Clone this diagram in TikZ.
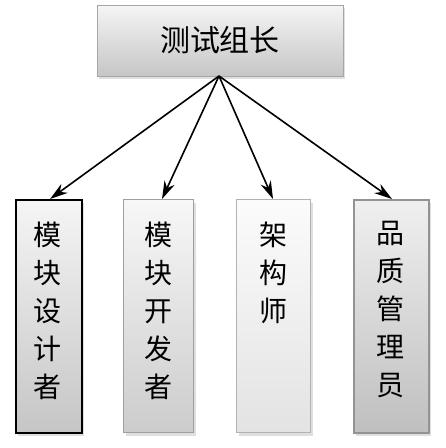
\documentclass[tikz,border=0pt]{standalone}
\usepackage{fontspec}
\newfontfamily\cjk{Noto Sans CJK SC}
\usetikzlibrary{arrows.meta,shadows,positioning}
\begin{document}
\begin{tikzpicture}[x=1pt,y=-1pt,
  boxbase/.style={rectangle, inner sep=0pt, anchor=north west,
    drop shadow={shadow xshift=2pt,shadow yshift=-3pt,opacity=0.25}},
  vtext/.style={font=\cjk\fontsize{28}{38}\selectfont, align=center},
  conn/.style={line width=1.6pt, -{Stealth[length=18pt,width=11pt]}}]
\useasboundingbox (0,0) rectangle (446,448);
% top box
\node[boxbase, minimum width=246pt, minimum height=71pt, draw=gray!70, line width=0.8pt,
  top color=gray!8, bottom color=gray!45] (lead) at (97,5) {};
\node[font=\cjk\fontsize{30}{34}\selectfont] (leadt) at (220,40) {测试组长};
% role boxes
\node[boxbase, minimum width=66pt, minimum height=233pt, draw=black, line width=2pt,
  top color=gray!8, bottom color=gray!45] (b1) at (15,199) {};
\node[boxbase, minimum width=70pt, minimum height=233pt, draw=gray!75, line width=1.2pt,
  top color=gray!6, bottom color=gray!40] (b2) at (123,199) {};
\node[boxbase, minimum width=74pt, minimum height=233pt, draw=gray!60, line width=1.2pt,
  top color=gray!3, bottom color=gray!22] (b3) at (236,199) {};
\node[boxbase, minimum width=75pt, minimum height=233pt, draw=gray!85, line width=1.5pt,
  top color=gray!12, bottom color=gray!50] (b4) at (353,199) {};
% texts
\node[vtext, anchor=north] (t1) at (48,218) {模\\块\\设\\计\\者};
\node[vtext, anchor=north] (t2) at (158,218) {模\\块\\开\\发\\者};
\node[vtext, anchor=north] (t3) at (273,218) {架\\构\\师};
\node[vtext, anchor=north] (t4) at (390,218) {品\\质\\管\\理\\员};
% connectors
\coordinate (src) at (219,76);
\coordinate (e1) at (50,199);
\coordinate (e2) at (162,199);
\coordinate (e3) at (273,199);
\coordinate (e4) at (392,199);
\draw[conn] (src) -- (e1);
\draw[conn] (src) -- (e2);
\draw[conn] (src) -- (e3);
\draw[conn] (src) -- (e4);
\end{tikzpicture}
\end{document}
